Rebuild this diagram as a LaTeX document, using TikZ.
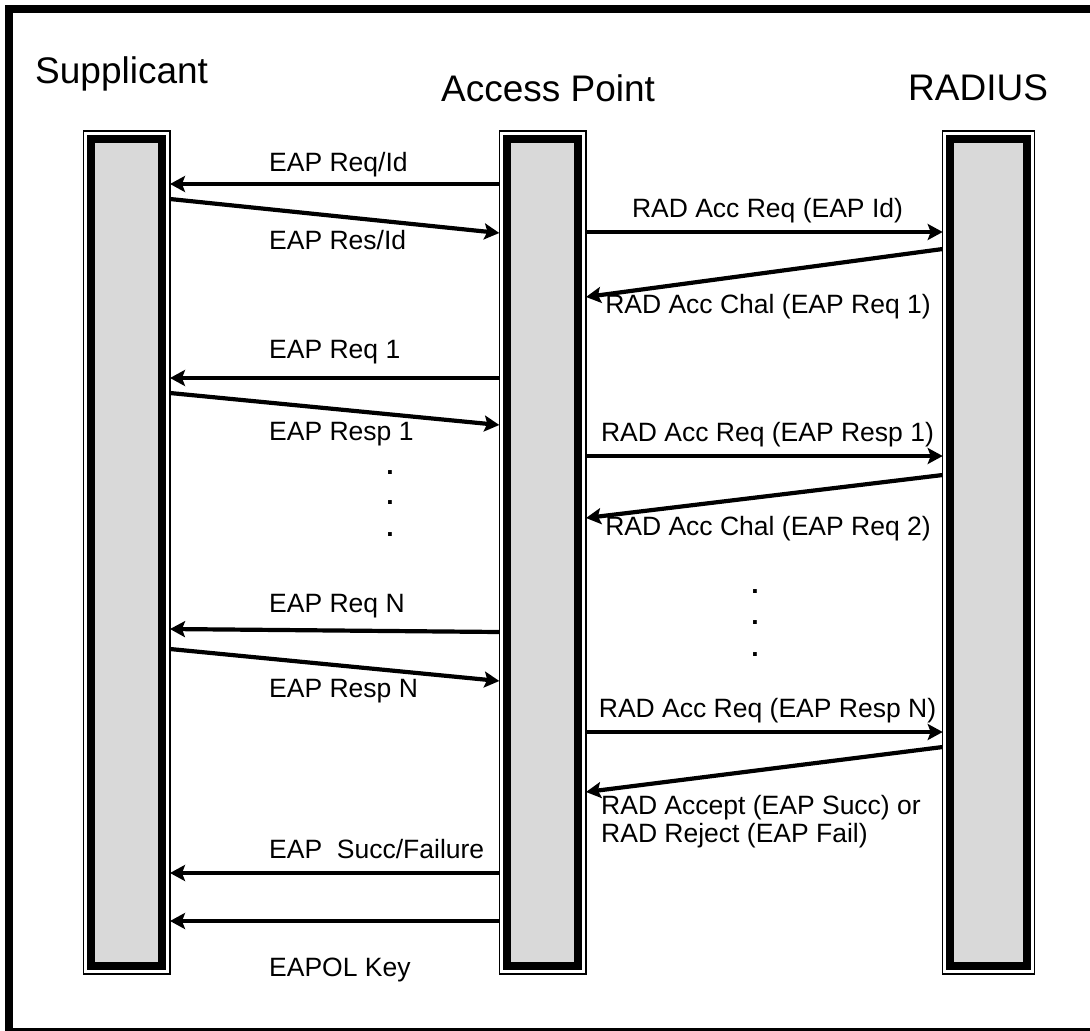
\documentclass[tikz,border=0pt]{standalone}
\usepackage{fontspec}
\setmainfont{Liberation Sans}
\usetikzlibrary{arrows.meta}
\definecolor{barfill}{RGB}{217,217,217}
\tikzset{
  bar/.style={draw=black, line width=1.3pt, fill=white, outer sep=0pt, inner sep=0pt,
    minimum width=#1, minimum height=843pt,
    path picture={\draw[line width=8pt, fill=barfill]
      ([shift={(7.6pt,-7.6pt)}]path picture bounding box.north west) rectangle
      ([shift={(-7.6pt,7.6pt)}]path picture bounding box.south east);}},
  head/.style={anchor=base west, inner sep=0pt, font=\fontsize{37}{40}\selectfont},
  lbl/.style={anchor=base west, inner sep=0pt, font=\fontsize{26.5}{28}\selectfont},
  clbl/.style={anchor=base, inner sep=0pt, font=\fontsize{26.5}{28}\selectfont},
  dotn/.style={inner sep=0pt, font=\fontsize{26.5}{28}\selectfont\bfseries},
  msg/.style={line width=4.2pt, -{Stealth[length=15pt,width=16pt,inset=3pt]}},
}
\begin{document}
\begin{tikzpicture}[x=1pt,y=-1pt]
\useasboundingbox (0,0) rectangle (1090,1031);
\draw[line width=8pt] (9,9) rectangle (1095,1032);

\node[head] (hsup) at (35,83) {Supplicant};
\node[head] (hap) at (441,101) {Access Point};
\node[head] (hrad) at (908,100) {RADIUS};

\node[bar=86.5pt] (sup) at (126.75,552.5) {};
\node[bar=86.7pt] (ap) at (542.65,552.5) {};
\node[bar=91.6pt] (rad) at (988.5,552.5) {};

% labels
\node[lbl] (l1) at (269,171) {EAP Req/Id};
\node[lbl] (l2) at (269,249) {EAP Res/Id};
\node[clbl] (l3) at (767.5,217) {RAD Acc Req (EAP Id)};
\node[clbl] (l4) at (768,313) {RAD Acc Chal (EAP Req 1)};
\node[lbl] (l5) at (269,358) {EAP Req 1};
\node[lbl] (l6) at (269,440) {EAP Resp 1};
\node[clbl] (l7) at (767.5,441) {RAD Acc Req (EAP Resp 1)};
\node[clbl] (l8) at (768,535) {RAD Acc Chal (EAP Req 2)};
\node[lbl] (l9) at (269,612) {EAP Req N};
\node[lbl] (l10) at (269,697) {EAP Resp N};
\node[clbl] (l11) at (767.5,717) {RAD Acc Req (EAP Resp N)};
\node[lbl] (l12a) at (601,814) {RAD Accept (EAP Succ) or};
\node[lbl] (l12b) at (601,842) {RAD Reject (EAP Fail)};
\node[lbl] (l13) at (269,858) {EAP\ \ Succ/Failure};
\node[lbl] (l14) at (269,976) {EAPOL Key};

% dots
\node[dotn] (d1) at (390,473) {.};
\node[dotn] (d2) at (390,503) {.};
\node[dotn] (d3) at (390,535) {.};
\node[dotn] (d4) at (755,592) {.};
\node[dotn] (d5) at (755,623) {.};
\node[dotn] (d6) at (755,655) {.};

% messages
\draw[msg] (ap.west |- 0,184) -- (sup.east |- 0,184);
\draw[msg] (sup.east |- 0,199) -- (ap.west |- 0,233);
\draw[msg] (ap.east |- 0,232) -- (rad.west |- 0,232);
\draw[msg] (rad.west |- 0,249) -- (ap.east |- 0,297);
\draw[msg] (ap.west |- 0,378) -- (sup.east |- 0,378);
\draw[msg] (sup.east |- 0,393) -- (ap.west |- 0,425);
\draw[msg] (ap.east |- 0,456) -- (rad.west |- 0,456);
\draw[msg] (rad.west |- 0,475) -- (ap.east |- 0,518);
\draw[msg] (ap.west |- 0,632) -- (sup.east |- 0,629);
\draw[msg] (sup.east |- 0,649) -- (ap.west |- 0,681);
\draw[msg] (ap.east |- 0,732) -- (rad.west |- 0,732);
\draw[msg] (rad.west |- 0,747) -- (ap.east |- 0,792);
\draw[msg] (ap.west |- 0,873) -- (sup.east |- 0,873);
\draw[msg] (ap.west |- 0,921) -- (sup.east |- 0,921);
\end{tikzpicture}
\end{document}
